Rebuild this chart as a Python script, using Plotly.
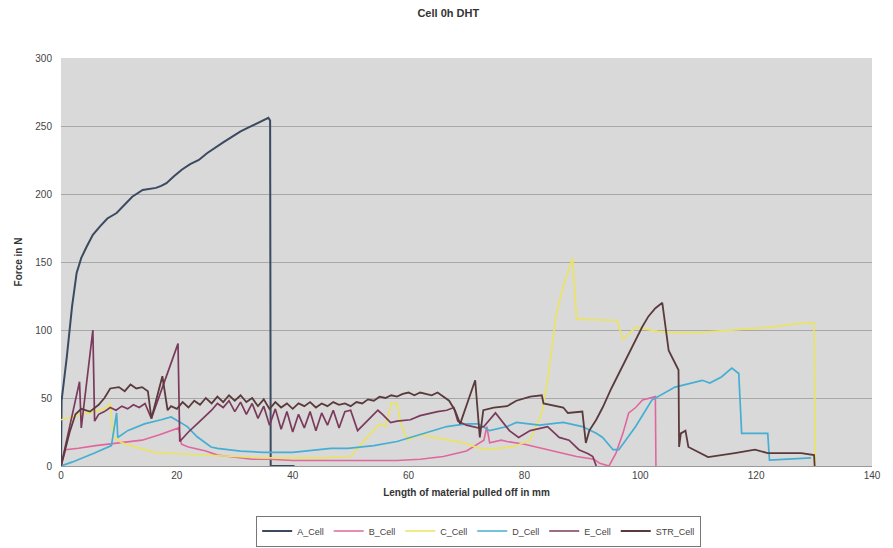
import plotly.graph_objects as go

# Pull-off force curves for the cell specimens (length in mm, force in N)
a_x = [0, 0.1, 1.0, 1.9, 2.7, 3.5, 4.4, 5.5, 6.7, 8.0, 9.6, 11.0, 12.3, 14.1, 15.5, 16.4,
       17.3, 18.2, 19.5, 20.9, 22.3, 23.8, 25.2, 26.7, 28.0, 29.5, 31.0, 32.4, 33.8, 35.3,
       35.8, 36.1, 36.2, 40.3]
a_y = [0, 48, 80, 117, 142, 153, 161, 170, 176, 182, 186, 192, 198, 203, 204, 204.5,
       206, 208, 213, 218, 222, 225, 230, 234.6, 238, 242, 246, 249, 252, 255.5,
       256, 254, 0, 0]

b_x = [0, 0.8, 3, 6, 10, 14, 17, 19.5, 20.3, 20.8, 22, 25, 27, 29, 31, 33, 36, 40, 45, 50,
       55, 58, 62, 66, 70, 73, 73.5, 74, 76, 77, 80, 83, 86, 89, 92, 93, 94.6, 95.8, 97,
       98, 99.2, 100.4, 102.6, 102.7]
b_y = [0, 12, 13, 15, 17, 19, 23, 27, 28, 16, 14, 11, 8, 7, 6, 5, 5, 4, 4, 4,
       4, 4, 5, 7, 11, 19, 29, 17, 19, 18, 16, 13, 10, 7, 5, 2, 0, 9.5, 24,
       39, 43, 48.5, 51, 0]

c_x = [0, 2, 4, 6, 7.5, 8.5, 9, 10.5, 13, 16, 20, 25, 30, 35, 40, 45, 50, 52.4, 55, 56,
       57, 58, 58.6, 59.8, 62, 64.4, 67, 69.5, 73, 76, 78, 81, 83, 84, 85.5, 86.7, 88.3,
       89, 96, 97, 99.2, 103, 106, 110, 116, 122, 127.8, 130, 130.2]
c_y = [34, 36, 38, 40, 42, 46, 22, 17, 14, 10, 9, 8, 7, 6, 6, 6, 7, 19, 31, 29,
       46, 46, 32, 19, 23, 21, 19, 17, 12, 13, 14, 19, 39, 63, 112, 132, 153,
       108, 107, 93, 102, 99, 98, 98, 100, 102, 105, 105, 0]

d_x = [0, 2, 5.8, 8.7, 9.6, 9.8, 11.5, 14.4, 17.3, 19, 21.8, 23.5, 25.9, 27, 31, 35,
       40, 46.6, 49.5, 54, 58, 62, 66.6, 68.4, 70, 72, 74, 77, 78.6, 82.6, 86.7, 90,
       92.4, 93.5, 95.3, 96.3, 99.2, 102, 106, 110.7, 112, 114, 115.8, 117, 117.5,
       122, 122.3, 129.5]
d_y = [0, 3, 9.5, 15, 39, 21, 26, 31, 34, 36, 29, 21.5, 14, 13, 11, 10,
       10, 13, 13, 15, 18, 23, 29, 30, 31, 31, 26, 29, 32, 30, 32, 29,
       24, 21, 12, 12, 29, 48.5, 58, 63, 61, 65.5, 72, 68, 24,
       24, 4.4, 6]

e_x = [0, 3.2, 3.5, 5.5, 5.8, 6.5, 7.5, 8.5, 9.5, 10.5, 11.5, 12.5, 13.5, 14.5, 15.6,
       20.2, 20.5, 22, 24, 26, 27, 28, 29, 30, 31, 32, 33, 34, 35, 36, 37, 38, 39, 40,
       41, 42, 43, 44, 45, 46, 47, 48, 49, 50, 51.2, 53, 54.7, 55.5, 56.9, 58, 60.3,
       62, 63.7, 65, 66.6, 67.8, 68.5, 70, 72, 73, 75, 77.4, 79, 81, 84, 86, 87.7,
       89.4, 91, 91.8, 92.4]
e_y = [0, 62, 28, 100, 33, 38, 40, 43, 41, 44, 42, 45, 43, 46, 35,
       90, 18, 25, 33, 41, 46, 43, 48, 40, 47, 38, 46, 35, 44, 30, 42, 27, 40, 25,
       38, 28, 40, 26, 39, 30, 41, 28, 40, 41, 26, 34, 41, 38, 32, 33, 34,
       37, 39, 40, 41, 43, 33, 30, 28, 29, 39, 26, 21, 26, 29, 21, 19,
       12, 9, 7, 0]

str_x = [0, 1.5, 2.5, 3.5, 5, 6.5, 7.5, 8.5, 10, 11, 12, 13, 14, 15, 15.6, 17.5, 18.4,
         19, 20, 21, 22, 23, 24, 25, 26, 27, 28, 29, 30, 31, 32, 33, 34, 35, 36, 37, 38,
         39, 40, 41, 42, 43, 44, 45, 46, 47, 48, 49, 50, 51, 52, 53, 54, 55, 56, 57, 58,
         59, 60, 61, 62, 63, 64, 65, 66, 67, 68, 68.9, 71.5, 72.3, 72.9, 74.7, 77, 78.6,
         81, 83, 83.3, 86.7, 87.5, 90, 90.6, 91.2, 92.4, 93.5, 95, 96.3, 97.8, 99.2,
         100.3, 101.4, 102.6, 103.8, 104.3, 104.9, 106.6, 106.7, 107, 107.8, 108.3,
         111.7, 116.3, 119.8, 122, 127.8, 130, 130.1]
str_y = [0, 25, 38, 42, 40, 45, 50, 57, 58, 55, 60, 57, 58, 55, 35, 66, 41,
         44, 42, 47, 43, 48, 45, 50, 46, 51, 47, 52, 48, 52, 47, 50, 44, 49, 42, 47, 43,
         46, 42, 46, 44, 47, 43, 46, 44, 47, 45, 46, 44, 47, 46, 49, 48, 51, 50, 52, 51,
         53, 54, 52, 54, 53, 52, 54, 51, 48, 41, 31, 63, 21, 41, 43, 44, 48,
         51, 52, 46, 43, 39, 40, 17, 26, 34, 43, 57, 68, 81, 93,
         102, 110, 116, 120, 102, 85, 70.6, 14, 24, 26, 14,
         6.6, 9.5, 12, 9.5, 9.5, 8, 0]

series = [
    ("A_Cell", a_x, a_y, "#3a4a60", 2.0),
    ("B_Cell", b_x, b_y, "#e0679e", 1.6),
    ("C_Cell", c_x, c_y, "#ebe363", 1.7),
    ("D_Cell", d_x, d_y, "#45aed3", 1.7),
    ("E_Cell", e_x, e_y, "#7b3a5c", 1.7),
    ("STR_Cell", str_x, str_y, "#5a3a3c", 1.8),
]

fig = go.Figure()
for name, xs, ys, color, width in series:
    fig.add_trace(go.Scatter(x=xs, y=ys, mode="lines", name=name,
                             line=dict(color=color, width=width)))

font_family = "Liberation Sans, Arial, sans-serif"

fig.update_layout(
    width=893, height=548,
    margin=dict(l=61, r=15, t=58, b=82),
    paper_bgcolor="#ffffff",
    plot_bgcolor="#d9d9d9",
    font=dict(family=font_family, size=10, color="#333333"),
    title=dict(text="<b>Cell 0h DHT</b>", x=0.502, xanchor="center",
               y=1 - 13 / 548, yanchor="middle",
               font=dict(size=11, color="#333333")),
    showlegend=True,
    legend=dict(orientation="h", x=0.515, xanchor="center",
                yref="container", y=17 / 548, yanchor="middle",
                bordercolor="#777777", borderwidth=1, bgcolor="#ffffff",
                font=dict(size=9, color="#444444"),
                itemwidth=30, tracegroupgap=0),
    xaxis=dict(range=[0, 140], tickvals=[0, 20, 40, 60, 80, 100, 120, 140],
               showgrid=False, zeroline=False, showline=True, linecolor="#999999",
               ticks="", tickfont=dict(size=10, color="#444444"),
               title=dict(text="<b>Length of material pulled off in mm</b>",
                          standoff=8, font=dict(size=10, color="#333333"))),
    yaxis=dict(range=[0, 300], tickvals=[0, 50, 100, 150, 200, 250, 300],
               showgrid=True, gridcolor="#a8a8a8", gridwidth=1,
               zeroline=False, showline=False, ticks="", ticklabelstandoff=8,
               tickfont=dict(size=10, color="#444444"),
               title=dict(text="<b>Force in N</b>", standoff=10,
                          font=dict(size=10, color="#333333"))),
)

fig.write_html("out.html")
